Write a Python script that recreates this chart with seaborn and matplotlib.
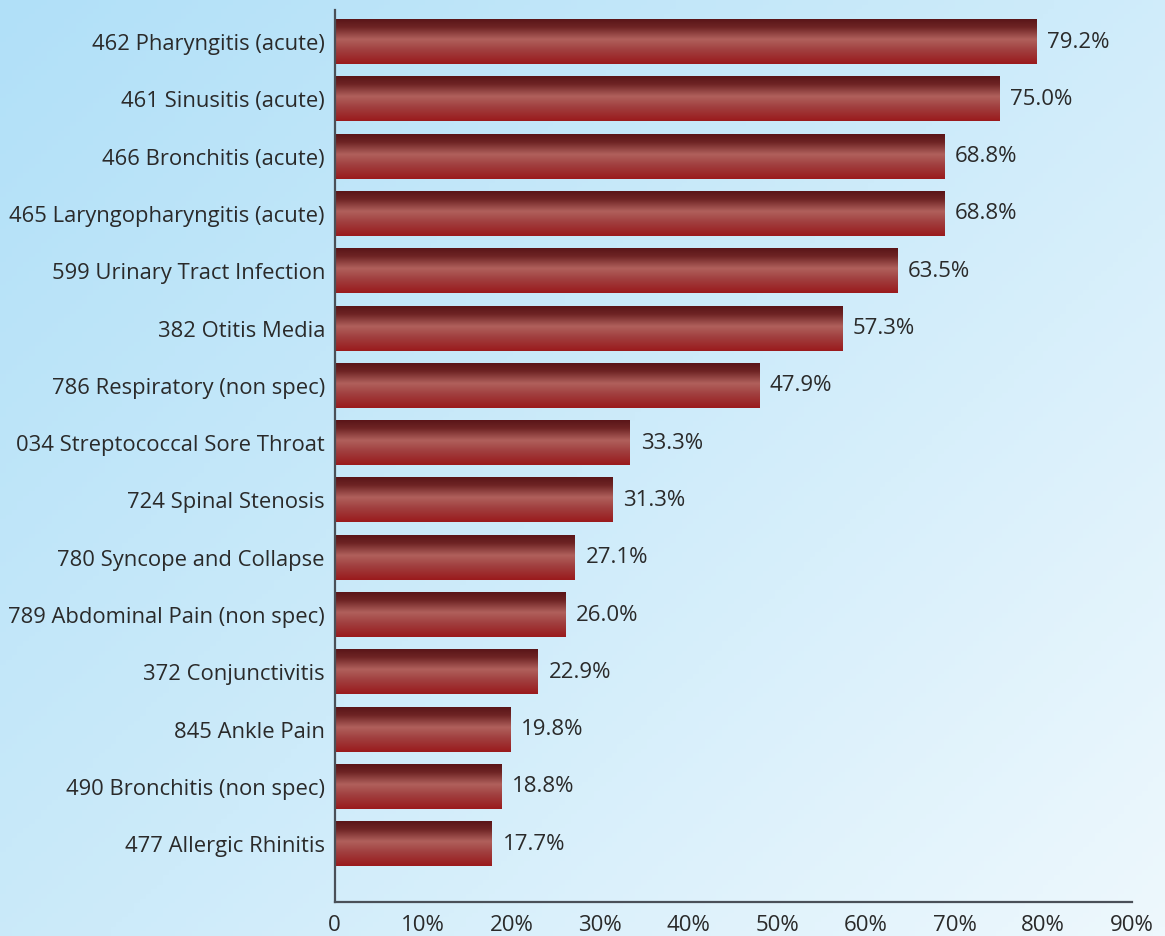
import numpy as np
import pandas as pd
import matplotlib
matplotlib.use("Agg")
import matplotlib.pyplot as plt
from matplotlib.colors import LinearSegmentedColormap
import seaborn as sns

categories = [
    "462 Pharyngitis (acute)",
    "461 Sinusitis (acute)",
    "466 Bronchitis (acute)",
    "465 Laryngopharyngitis (acute)",
    "599 Urinary Tract Infection",
    "382 Otitis Media",
    "786 Respiratory (non spec)",
    "034 Streptococcal Sore Throat",
    "724 Spinal Stenosis",
    "780 Syncope and Collapse",
    "789 Abdominal Pain (non spec)",
    "372 Conjunctivitis",
    "845 Ankle Pain",
    "490 Bronchitis (non spec)",
    "477 Allergic Rhinitis",
]
values = [79.2, 75.0, 68.8, 68.8, 63.5, 57.3, 47.9, 33.3, 31.3, 27.1, 26.0, 22.9, 19.8, 18.8, 17.7]
value_labels = ["79.2%", "75.0%", "68.8%", "68.8%", "63.5%", "57.3%", "47.9%", "33.3%",
                "31.3%", "27.1%", "26.0%", "22.9%", "19.8%", "18.8%", "17.7%"]
x_ticks = [0, 10, 20, 30, 40, 50, 60, 70, 80, 90]
x_tick_labels = ["0", "10%", "20%", "30%", "40%", "50%", "60%", "70%", "80%", "90%"]

df = pd.DataFrame({"category": categories, "value": values})

sns.set_theme(style="white")
plt.rcParams["font.family"] = ["Open Sans", "DejaVu Sans"]

W, H, DPI = 1165, 936, 100
fig = plt.figure(figsize=(W / DPI, H / DPI), dpi=DPI)

# background gradient
bg_ax = fig.add_axes([0, 0, 1, 1], zorder=-10)
yy, xx = np.mgrid[0:1:200j, 0:1:200j]
t = np.clip(0.55 * xx + 0.45 * yy, 0, 1)
bg_cmap = LinearSegmentedColormap.from_list("bg", ["#b1e0f8", "#cdebfa", "#eef8fd"])
bg_ax.imshow(t, cmap=bg_cmap, aspect="auto", extent=[0, 1, 0, 1], origin="upper", vmin=0, vmax=1)
bg_ax.axis("off")

ax = fig.add_axes([334.7 / W, 1 - 901.5 / H, (1131.7 - 334.7) / W, (901.5 - 10) / H])
ax.patch.set_alpha(0)

sns.barplot(data=df, x="value", y="category", orient="h", width=0.77,
            color="#9b1b1d", linewidth=0, ax=ax, zorder=2)

bar_cmap = LinearSegmentedColormap.from_list(
    "bar", [(0.0, "#5a1518"), (0.18, "#6e2424"), (0.45, "#b0605c"),
            (0.7, "#a03e3e"), (1.0, "#9a1a1c")])
grad = np.linspace(0, 1, 256).reshape(-1, 1)
for p in list(ax.patches):
    x0, y0 = p.get_x(), p.get_y()
    w, h = p.get_width(), p.get_height()
    ax.imshow(grad, cmap=bar_cmap, aspect="auto", origin="upper",
              extent=[x0, x0 + w, y0 + h, y0], zorder=3, interpolation="bilinear")

for i, (v, lab) in enumerate(zip(values, value_labels)):
    ax.annotate(lab, xy=(v, i), xytext=(11, 0), textcoords="offset pixels",
                va="center", ha="left", fontsize=16, color="#2a2a2a")

ax.set_xlim(0, 90)
ax.set_ylim(15.0, -0.56)
ax.set_xticks(x_ticks)
ax.set_xticklabels(x_tick_labels)
ax.set_xlabel("")
ax.set_ylabel("")

for s in ["top", "right"]:
    ax.spines[s].set_visible(False)
for s in ["left", "bottom"]:
    ax.spines[s].set_color("#4a5058")
    ax.spines[s].set_linewidth(1.6)
    ax.spines[s].set_zorder(5)

ax.tick_params(axis="x", direction="in", length=8, width=1.2, color="#4a5058",
               pad=10, labelsize=16, labelcolor="#2a2a2a")
ax.tick_params(axis="y", length=0, pad=7, labelsize=15.8, labelcolor="#2a2a2a")

fig.savefig("out.png", dpi=DPI)
